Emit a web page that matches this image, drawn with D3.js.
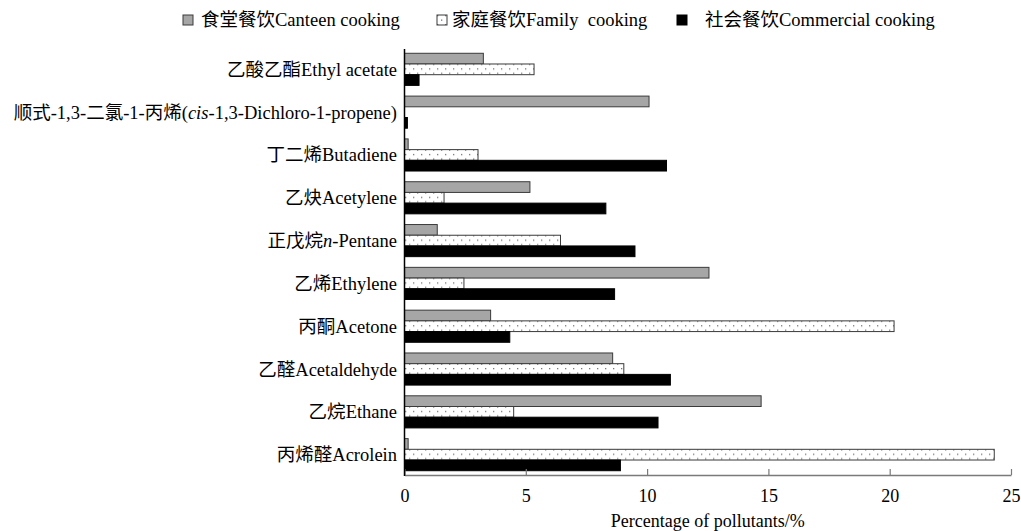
<!DOCTYPE html>
<html>
<head>
<meta charset="utf-8">
<script src="https://cdn.jsdelivr.net/npm/d3@7/dist/d3.min.js"></script>
<style>
  html, body { margin: 0; padding: 0; background: #fff; }
  svg { display: block; }
  text { font-family: "Liberation Serif", serif; fill: #000; }
</style>
</head>
<body>
<svg id="chart" width="1021" height="531"></svg>
<script>
// Pollutant categories, top to bottom
const categories = [
  "Ethyl acetate", "cis-1,3-Dichloro-1-propene", "Butadiene", "Acetylene", "n-Pentane",
  "Ethylene", "Acetone", "Acetaldehyde", "Ethane", "Acrolein"
];
// Label pieces: [text, italic?]
const categoryLabels = [
  [["乙酸乙酯Ethyl acetate", false]],
  [["顺式-1,3-二氯-1-丙烯(", false], ["cis", true], ["-1,3-Dichloro-1-propene)", false]],
  [["丁二烯Butadiene", false]],
  [["乙炔Acetylene", false]],
  [["正戊烷", false], ["n", true], ["-Pentane", false]],
  [["乙烯Ethylene", false]],
  [["丙酮Acetone", false]],
  [["乙醛Acetaldehyde", false]],
  [["乙烷Ethane", false]],
  [["丙烯醛Acrolein", false]]
];

// Percentage of pollutants (%) per cooking source
const canteen    = [3.25, 10.08, 0.15, 5.17, 1.35, 12.55, 3.55, 8.58, 14.7, 0.15];
const family     = [5.34, 0,     3.03, 1.63, 6.43, 2.45, 20.18, 9.04, 4.5, 24.31];
const commercial = [0.6,  0.12, 10.8, 8.3,  9.5,  8.66, 4.34, 10.96, 10.45, 8.9];

const seriesKeys = ["canteen", "family", "commercial"];
const seriesNames = ["食堂餐饮Canteen cooking", "家庭餐饮Family  cooking", "社会餐饮Commercial cooking"];
const xTicks = [0, 5, 10, 15, 20, 25];
const xTitle = "Percentage of pollutants/%";

const seriesValues = { canteen, family, commercial };

const CJK_FONT = "'Noto Sans CJK SC', sans-serif";
const LATIN_FONT = "'Liberation Serif', serif";

// Append text as separate tspans so Han characters and Latin text each get their own font
function appendMixed(sel, str, italic) {
  const parts = str.match(/[\u3400-\u9fff]+|[^\u3400-\u9fff]+/g) || [];
  parts.forEach(p => {
    const isCJK = /[\u3400-\u9fff]/.test(p);
    sel.append("tspan")
      .style("font-family", isCJK ? CJK_FONT : LATIN_FONT)
      .style("font-style", italic ? "italic" : "normal")
      .style("white-space", "pre")
      .text(p);
  });
}

const svg = d3.select("#chart");

// Dotted fill for family cooking bars
const defs = svg.append("defs");
const pat = defs.append("pattern")
  .attr("id", "dots")
  .attr("patternUnits", "userSpaceOnUse")
  .attr("width", 8).attr("height", 9);
pat.append("rect").attr("width", 8).attr("height", 9).attr("fill", "#fff");
pat.append("rect").attr("x", 1).attr("y", 1.5).attr("width", 1.3).attr("height", 1.3).attr("fill", "#777");
pat.append("rect").attr("x", 5).attr("y", 6).attr("width", 1.3).attr("height", 1.3).attr("fill", "#777");

const styles = {
  canteen:    { fill: "#a6a6a6", stroke: "#3a3a3a" },
  family:     { fill: "url(#dots)", stroke: "#3a3a3a" },
  commercial: { fill: "#000", stroke: "#000" }
};

const x = d3.scaleLinear().domain([0, 25]).range([404.5, 1011]);
const y = d3.scaleBand().domain(categories).range([49, 475]).paddingInner(0.25).paddingOuter(0.1);
const yInner = d3.scaleBand().domain(seriesKeys).range([0, y.bandwidth()]);

// Bars
const groups = svg.append("g").selectAll("g")
  .data(categories)
  .join("g")
  .attr("transform", d => `translate(0,${y(d)})`);

groups.selectAll("rect")
  .data((d, i) => seriesKeys.map(k => ({ key: k, value: seriesValues[k][i] })))
  .join("rect")
  .filter(d => d.value > 0)
  .attr("x", x(0))
  .attr("y", d => yInner(d.key))
  .attr("width", d => x(d.value) - x(0))
  .attr("height", yInner.bandwidth())
  .attr("fill", d => styles[d.key].fill)
  .attr("stroke", d => styles[d.key].stroke)
  .attr("stroke-width", 1);

// Bottom axis with inward ticks
const xAxis = svg.append("g")
  .attr("transform", `translate(0,475)`)
  .call(d3.axisBottom(x).tickValues(xTicks).tickFormat(d3.format("d")).tickSizeInner(-6).tickSizeOuter(0).tickPadding(14));
xAxis.select(".domain").attr("stroke", "#7a7a7a").attr("stroke-width", 1.5);
xAxis.selectAll(".tick line").attr("stroke", "#7a7a7a").attr("stroke-width", 1.2);
xAxis.selectAll(".tick text")
  .style("font-family", LATIN_FONT)
  .style("font-size", "18px")
  .attr("fill", "#000");

// Vertical category axis line
svg.append("line")
  .attr("x1", x(0)).attr("x2", x(0))
  .attr("y1", 49).attr("y2", 476)
  .attr("stroke", "#000").attr("stroke-width", 1.5);

// Category labels
const labels = svg.append("g").selectAll("text")
  .data(categories)
  .join("text")
  .attr("x", 397)
  .attr("y", d => y(d) + y.bandwidth() / 2)
  .attr("dy", "0.35em")
  .attr("text-anchor", "end")
  .style("font-size", "18.5px");
labels.each(function (d, i) {
  const t = d3.select(this);
  categoryLabels[i].forEach(([s, it]) => appendMixed(t, s, it));
});

// Axis title
svg.append("text")
  .attr("x", (x(0) + x(25)) / 2)
  .attr("y", 527)
  .attr("text-anchor", "middle")
  .style("font-size", "18px")
  .text(xTitle);

// Legend
const legendX = [183, 437, 677];
const legendTextX = [201, 452, 705];
const legend = svg.append("g").selectAll("g")
  .data(seriesKeys)
  .join("g");
legend.append("rect")
  .attr("x", (d, i) => legendX[i])
  .attr("y", 15)
  .attr("width", 10).attr("height", 10)
  .attr("fill", d => styles[d].fill)
  .attr("stroke", d => styles[d].stroke);
legend.append("text")
  .attr("x", (d, i) => legendTextX[i])
  .attr("y", 20)
  .attr("dy", "0.35em")
  .style("font-size", "18.5px")
  .each(function (d, i) { appendMixed(d3.select(this), seriesNames[i], false); });
</script>
</body>
</html>
